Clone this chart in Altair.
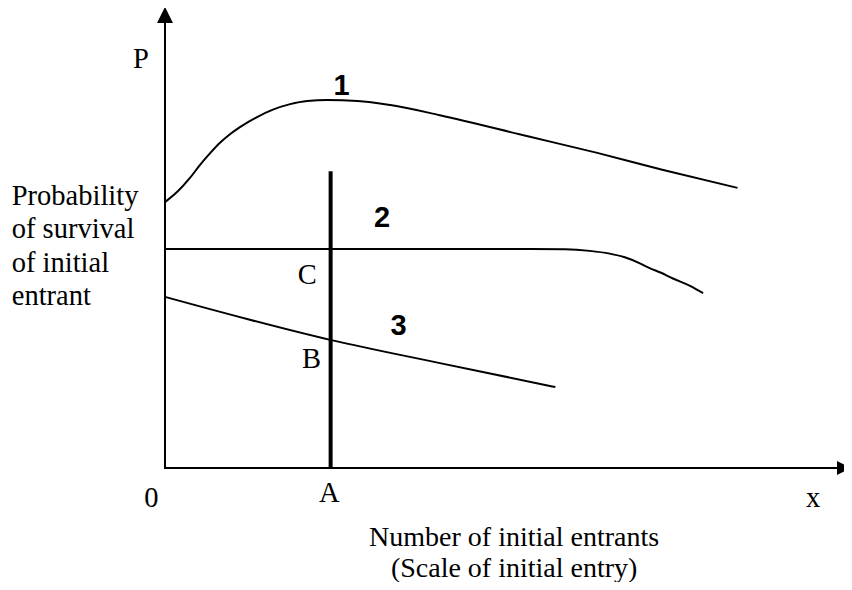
import altair as alt
import pandas as pd

# ---- curve data (x: number of initial entrants, y: probability of survival, arbitrary units)
c1_x = [0, 1.9, 3.6, 5.1, 6.6, 8.0, 9.5, 10.9, 13.4, 15.7, 18.2, 20.7, 23.6,
        28.0, 32.8, 40.0, 53.1, 62.9, 72.5, 83.3]
c1_y = [57.8, 60.2, 63.0, 65.9, 68.5, 70.7, 72.6, 74.1, 76.3, 77.9, 79.1, 79.8, 80.0,
        79.8, 78.9, 76.7, 72.0, 68.5, 64.8, 60.9]

c2_x = [0, 38.6, 53.1, 58.2, 61.8, 64.7, 66.9, 69.1, 70.6, 72.1, 73.9, 76.4, 78.3]
c2_y = [47.6, 47.6, 47.6, 47.55, 47.2, 46.6, 45.8, 44.5, 43.4, 42.5, 41.2, 39.6, 38.0]

c3_x = [0, 24.2, 40.0, 56.8]
c3_y = [37.2, 27.8, 22.8, 17.6]

# vertical line at A
a_x = 24.1
a_top = 64.5

# axis extents
x_max = 98.8
x_axis_end = 97.8
y_axis_end = 97
y_arrow = 98.5

rows = []
for name, xs_, ys_ in [("1", c1_x, c1_y), ("2", c2_x, c2_y), ("3", c3_x, c3_y)]:
    for i, (a, b) in enumerate(zip(xs_, ys_)):
        rows.append({"curve": name, "i": i, "x": a, "y": b})
curves = pd.DataFrame(rows)

xs = alt.Scale(domain=[0, x_max], nice=False, zero=False)
ys = alt.Scale(domain=[0, 100], nice=False, zero=False)
X = lambda f: alt.X(f, type="quantitative", scale=xs, axis=None)
Y = lambda f: alt.Y(f, type="quantitative", scale=ys, axis=None)

lines = alt.Chart(curves).mark_line(
    color="black", strokeWidth=2, interpolate="monotone"
).encode(x=X("x"), y=Y("y"), detail="curve:N", order="i:Q")

vline = alt.Chart(pd.DataFrame({"x": [a_x], "y": [0], "y2": [a_top]})).mark_rule(
    color="black", strokeWidth=4
).encode(x=X("x"), y=Y("y"), y2="y2:Q")

axes_df = pd.DataFrame({
    "x": [0, 0], "x2": [0, x_axis_end], "y": [0, 0], "y2": [y_axis_end, 0]
})
axes = alt.Chart(axes_df).mark_rule(color="black", strokeWidth=2, strokeCap="square").encode(
    x=X("x"), x2="x2:Q", y=Y("y"), y2="y2:Q"
)

up_arrow = alt.Chart(pd.DataFrame({"x": [0], "y": [y_arrow]})).mark_point(
    shape="M0,-1L1,1L-1,1Z", size=256, filled=True, color="black", opacity=1, strokeWidth=0
).encode(x=X("x"), y=Y("y"))

right_arrow = alt.Chart(pd.DataFrame({"x": [x_max], "y": [0]})).mark_point(
    shape="M1,0L-1,-1L-1,1Z", size=196, filled=True, color="black", opacity=1, strokeWidth=0
).encode(x=X("x"), y=Y("y"))

# serif letter labels
serif_text = ["P", "C", "B", "0", "A", "x"]
serif_x = [-3.5, 20.7, 21.3, -2.0, 23.9, 94.3]
serif_y = [87.0, 40.0, 21.7, -8.5, -7.4, -8.5]
serif = alt.Chart(pd.DataFrame({"t": serif_text, "x": serif_x, "y": serif_y})).mark_text(
    font="Liberation Serif", fontSize=28.5, color="black", align="center", baseline="alphabetic"
).encode(x=X("x"), y=Y("y"), text="t:N")

# bold curve numbers
num_text = ["1", "2", "3"]
num_x = [25.7, 31.6, 34.0]
num_y = [81.1, 52.4, 28.9]
nums = alt.Chart(pd.DataFrame({"t": num_text, "x": num_x, "y": num_y})).mark_text(
    font="Liberation Sans", fontWeight="bold", fontSize=29, color="black",
    align="center", baseline="alphabetic"
).encode(x=X("x"), y=Y("y"), text="t:N")

ylabel = alt.Chart(pd.DataFrame({
    "t": ["Probability\nof survival\nof initial\nentrant"], "x": [-22.3], "y": [57.2]
})).mark_text(
    font="Liberation Serif", fontSize=28.5, color="black", align="left",
    baseline="alphabetic", lineBreak="\n", lineHeight=33.5
).encode(x=X("x"), y=Y("y"), text="t:N")

xlabel = alt.Chart(pd.DataFrame({
    "t": ["Number of initial entrants\n(Scale of initial entry)"], "x": [50.8], "y": [-17.0]
})).mark_text(
    font="Liberation Serif", fontSize=28, color="black", align="center",
    baseline="alphabetic", lineBreak="\n", lineHeight=31
).encode(x=X("x"), y=Y("y"), text="t:N")

chart = alt.layer(
    axes, lines, vline, up_arrow, right_arrow, serif, nums, ylabel, xlabel
).properties(
    width=679, height=460,
    autosize=alt.AutoSizeParams(type="none"),
    padding={"left": 157, "top": 0, "right": 0, "bottom": 114},
    background="white",
).configure_view(stroke=None)

chart.save("out.html", embed_options={"renderer": "svg", "actions": False})
